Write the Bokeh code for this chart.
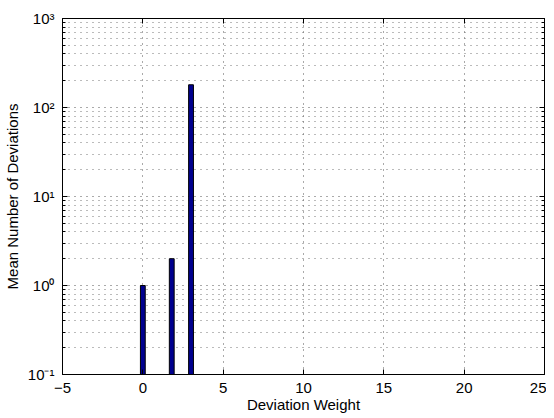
from bokeh.plotting import figure
from bokeh.models import (LogAxis, LinearAxis, FixedTicker, CustomJSTickFormatter,
                          Range1d)
from bokeh.embed import file_html
from bokeh.resources import INLINE

# ---- data ----
weights = [0, 1.8, 3]
counts = [1, 2, 180]
x_ticks = [-5, 0, 5, 10, 15, 20, 25]
y_ticks = [0.1, 1, 10, 100, 1000]
y_minor = [m * t for t in y_ticks[:-1] for m in range(2, 10)]

FONT = "Liberation Sans"

p = figure(width=546, height=416,
           x_range=Range1d(x_ticks[0], x_ticks[-1]),
           y_range=Range1d(y_ticks[0], y_ticks[-1]),
           y_axis_type="log",
           output_backend="svg", toolbar_location=None,
           min_border_left=56, min_border_right=2,
           min_border_top=18, min_border_bottom=42)
p.background_fill_color = "white"
p.border_fill_color = "white"
p.outline_line_color = "black"
p.outline_line_width = 1

xticker = FixedTicker(ticks=x_ticks, minor_ticks=[])
yticker = FixedTicker(ticks=y_ticks, minor_ticks=y_minor)

sup_fmt = CustomJSTickFormatter(code="""
const sup = {'0':'\u2070','1':'\u00b9','2':'\u00b2','3':'\u00b3','4':'\u2074',
             '5':'\u2075','6':'\u2076','7':'\u2077','8':'\u2078','9':'\u2079','-':'\u207b'};
const e = Math.round(Math.log10(tick));
return '10' + String(e).split('').map(c => sup[c]).join('');
""")

p.xaxis.ticker = xticker
p.yaxis.ticker = yticker
p.yaxis.formatter = sup_fmt

for ax in (p.xaxis[0], p.yaxis[0]):
    ax.major_tick_in = 5
    ax.major_tick_out = 0
    ax.minor_tick_in = 3
    ax.minor_tick_out = 0
    ax.axis_line_color = "black"
    ax.major_tick_line_color = "black"
    ax.minor_tick_line_color = "black"
    ax.major_label_text_font = FONT
    ax.major_label_text_font_size = "15px"
    ax.major_label_text_color = "black"
    ax.axis_label_text_font = FONT
    ax.axis_label_text_font_size = "15px"
    ax.axis_label_text_font_style = "normal"
    ax.axis_label_text_color = "black"

p.xaxis.axis_label = "Deviation Weight"
p.yaxis.axis_label = "Mean Number of Deviations"
p.xaxis.major_label_standoff = 8
p.xaxis.axis_label_standoff = 0
p.yaxis.major_label_standoff = 8
p.yaxis.axis_label_standoff = 4

# top and right box axes with inward ticks, no labels
blank = CustomJSTickFormatter(code="return '';")
top = LinearAxis(ticker=xticker, formatter=blank)
right = LogAxis(ticker=yticker, formatter=blank)
for ax in (top, right):
    ax.major_tick_in = 5
    ax.major_tick_out = 0
    ax.minor_tick_in = 3
    ax.minor_tick_out = 0
    ax.major_label_standoff = 0
    ax.axis_line_color = "black"
p.add_layout(top, "above")
p.add_layout(right, "right")

# grid
for g in (p.xgrid[0], p.ygrid[0]):
    g.grid_line_color = "#555555"
    g.grid_line_dash = "1 5"
    g.grid_line_width = 1
p.ygrid.minor_grid_line_color = "#777777"
p.ygrid.minor_grid_line_dash = "1 5"

p.vbar(x=weights, top=counts, bottom=y_ticks[0], width=0.3,
       fill_color="#00008F", line_color="black", line_width=1)

open("out.html", "w").write(file_html(p, INLINE))
